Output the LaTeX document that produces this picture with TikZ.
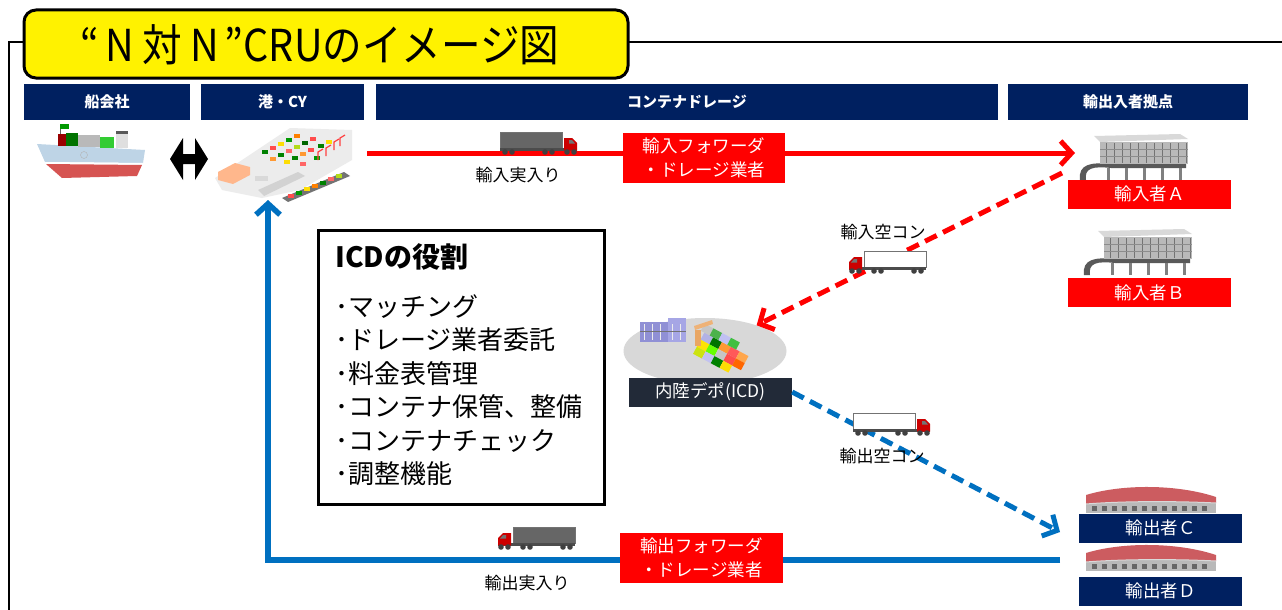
\documentclass[tikz,border=0pt]{standalone}
\usepackage{fontspec}
\setmainfont{Noto Sans CJK JP}
\usetikzlibrary{arrows.meta,shapes.geometric}
\definecolor{navy}{RGB}{0,32,96}
\definecolor{tagred}{RGB}{255,0,0}
\definecolor{flowblue}{RGB}{0,112,192}
\definecolor{slate}{RGB}{34,42,56}
\definecolor{hullblue}{RGB}{190,212,230}
\definecolor{hullred}{RGB}{214,84,82}
\definecolor{roofred}{RGB}{204,92,96}
\definecolor{depotgray}{RGB}{216,216,216}

% truck: #1,#2 centre, #3 container colour, #4 = 1 cab right / -1 cab left
\newcommand\truckpic[4]{%
  \begin{scope}[shift={(#1,#2)}, xscale=#4]
    \fill[#3, draw=black!55, line width=0.6pt] (-40,-11) rectangle (22,5);
    \fill[black!70] (-40,5) rectangle (37,7.5);
    \fill[red!80!black] (24,-5) -- (32,-5) -- (37,0) -- (37,7.5) -- (24,7.5) -- cycle;
    \fill[black!55] (29,-3) -- (32,-3) -- (35,0.5) -- (29,0.5) -- cycle;
    \foreach \w in {-35,-28,5,12,27,34} \fill[black!75] (\w,9) circle (2.8pt);
  \end{scope}}

% office block of an importer
\newcommand\officepic[2]{%
  \begin{scope}[shift={(#1,#2)}]
    \fill[black!65] (-56,24) .. controls (-58,8) and (-45,6) .. (-25,8) -- (50,8) -- (50,12) -- (-25,12) .. controls (-43,10) and (-52,12) .. (-50,24) -- cycle;
    \fill[gray!30] (-42,-20) -- (44,-22) -- (52,-17) -- (-36,-14) -- cycle;
    \fill[gray!55] (-36,-14) rectangle (52,8);
    \foreach \x in {-30,-22,...,50} \draw[black!55, line width=0.8pt] (\x,-13) -- (\x,7);
    \foreach \y in {-7,0} \draw[black!45, line width=0.8pt] (-36,\y) -- (52,\y);
    \foreach \x in {-28,-10,8,26,44} \fill[black!50] (\x-1.5,12) rectangle (\x+1.5,24);
  \end{scope}}

% warehouse of an exporter
\newcommand\storepic[2]{%
  \begin{scope}[shift={(#1,#2)}]
    \fill[gray!55] (-66,0) rectangle (64,12);
    \foreach \x in {-60,-50,...,58} \fill[black!60] (\x,5) rectangle (\x+5,10);
    \fill[roofred] (-66,-6) .. controls (-30,-17) and (25,-17) .. (64,-4)
      -- (64,2) .. controls (25,0) and (-30,0) .. (-66,3) -- cycle;
    \draw[gray!30, line width=1pt] (-66,3) .. controls (-30,0) and (25,0) .. (64,2);
  \end{scope}}

\begin{document}
\begin{tikzpicture}[x=1pt, y=-1pt,
  hdr/.style={fill=navy, text=white, inner sep=0pt, minimum height=36pt,
              font=\bfseries\fontsize{15}{18}\selectfont},
  tag/.style={fill=tagred, text=white, inner sep=0pt, align=center,
              font=\fontsize{17.5}{24}\selectfont},
  sitelabel/.style={inner sep=0pt, minimum width=163pt, minimum height=29pt,
              text=white, font=\fontsize{17.5}{20}\selectfont},
  caption/.style={inner sep=0pt, font=\fontsize{17}{20}\selectfont},
  spot/.style={inner sep=0pt, draw=none},
  tipbarb/.style={-{Straight Barb[length=11pt,width=24pt]}},
  impflow/.style={draw=tagred, line width=5pt, tipbarb},
  expflow/.style={draw=flowblue, line width=5.5pt, tipbarb},
  emptyrun/.style={line width=5pt, dash pattern=on 13pt off 7pt, tipbarb},
]
\useasboundingbox (0,0) rectangle (1282,610);
\fill[white] (0,0) rectangle (1282,610);

% outer frame
\draw[line width=2.5pt] (1282,42) -- (9,42) -- (9,610);

% title plate
\node[draw=black, line width=3pt, fill=yellow, rounded corners=12pt,
      minimum width=604pt, minimum height=68pt, inner sep=0pt] (title) at (326,44) {};
\node[inner sep=0pt, xscale=0.9, transform shape, font=\fontsize{44}{48}\selectfont] (titletext) at (320,45)
  {“\hspace{7pt}N\hspace{9pt}対\hspace{9pt}N\hspace{7pt}”CRUのイメージ図};

% column headers
\node[hdr, minimum width=166pt] (hShip)  at (107,102)   {船会社};
\node[hdr, minimum width=163pt] (hPort)  at (282.5,102) {港・CY};
\node[hdr, minimum width=622pt] (hDray)  at (687,102)   {コンテナドレージ};
\node[hdr, minimum width=240pt] (hSite)  at (1128,102)  {輸出入者拠点};

% ship
\node[spot, minimum width=110pt, minimum height=50pt] (ship) at (90,155) {};
\fill[hullblue] (37,144) -- (145,150) -- (143,163) -- (45,162) -- cycle;
\fill[white] (45,162) -- (143,163) -- (142,165) -- (46,164) -- cycle;
\fill[hullred] (46,164) -- (142,165) -- (137,176) -- (62,178) -- cycle;
\fill[red!60!black] (58,134) rectangle (66,146);
\fill[green!45!black] (66,133) rectangle (78,146);
\fill[gray!55] (78,135) rectangle (100,147);
\fill[gray!40!green] (100,137) rectangle (114,148);
\fill[gray!25] (116,134) rectangle (128,148);
\fill[black!65] (116,131) rectangle (128,134);
\draw[black!60, line width=0.8pt] (60,134) -- (60,124);
\fill[green!60!black] (60,124) rectangle (69,129);
\draw[gray!60] (84,155) circle (3.5pt);

% double arrow between shipping line and port
\fill[black] (170,159) -- (183,138) -- (183,154) -- (195,154) -- (195,138)
  -- (208,159) -- (195,180) -- (195,164) -- (183,164) -- (183,180) -- cycle;

% port and container yard
\node[spot, minimum width=140pt, minimum height=76pt] (port) at (285,162) {};
\fill[gray!15] (215,178) -- (290,128) -- (352,130) -- (352,160) -- (300,190) -- (262,198) -- (222,190) -- cycle;
\fill[gray!35] (258,190) -- (298,172) -- (305,176) -- (264,196) -- cycle;
\fill[red!25!orange!45] (218,172) -- (235,163) -- (250,167) -- (250,175) -- (233,184) -- (218,180) -- cycle;
\fill[gray!30] (255,176) rectangle (268,181);
\foreach \x/\y/\c in {262/150/green!50!black, 270/146/red!70, 278/142/yellow!80!orange,
    286/138/green!60!black, 294/134/orange, 270/157/orange!80, 278/153/green!50!black,
    286/149/red!60, 294/145/yellow!70!green, 302/141/green!40!black, 310/137/red!70,
    284/160/yellow!80!orange, 292/156/green!50!black, 300/152/orange!80, 308/148/red!70,
    318/144/green!50!black, 326/140/yellow!80!orange, 300/162/red!60, 314/156/green!60!black}
  \fill[\c] (\x,\y) rectangle ++(6,4);
\foreach \x/\y in {318/160, 326/156, 334/150, 340/146}
  \draw[red!75, line width=1.2pt] (\x,\y) -- ++(0,-8) -- ++(5,-3);
\fill[black!55] (282,198) -- (344,172) -- (350,176) -- (288,202) -- cycle;
\foreach \x/\y/\c in {288/194/red!70, 296/191/green!60!black, 304/187/yellow!80!orange,
    312/184/orange, 320/181/green!50!black, 328/177/red!60, 336/174/yellow!70!green}
  \fill[\c] (\x,\y) rectangle ++(6,4);

% inland depot
\node[spot, ellipse, fill=depotgray, minimum width=163pt, minimum height=66pt] (depot) at (705,351) {};
\fill[gray!55!blue!60] (640,322) rectangle (668,342);
\fill[gray!45!blue!45] (668,318) rectangle (686,342);
\foreach \x in {644,652,660,672,680} \draw[white!85!gray, line width=0.8pt] (\x,324) -- (\x,340);
\draw[black!55, line width=0.6pt] (640,331) -- (686,331);
\begin{scope}[shift={(728,352)}, rotate=-28]
  \foreach \x/\y/\c in {-30/-6/gray!50!blue!40, -20/-6/green!45!black, -10/-6/orange!80,
      0/-6/red!65, 10/-6/orange!70, -30/2/yellow!85!orange, -20/2/green!60!yellow,
      -10/2/gray!45, 0/2/red!70, 10/2/orange!80!red, -30/10/yellow!80!green,
      -20/10/gray!40!blue!30, -10/10/green!50!black, 0/10/yellow!80!orange,
      -34/-14/gray!45, -24/-14/green!40!gray, -14/-14/gray!35!blue!30, -4/-14/green!50!gray}
    \fill[\c] (\x,\y) rectangle ++(10,8);
\end{scope}
\fill[orange!50!brown!70] (695,330) rectangle (701,346);
\fill[orange!55!brown!60] (694,326) -- (712,320) -- (713,324) -- (695,330) -- cycle;
\node[sitelabel, fill=slate] (depotlbl) at (710.5,392) {内陸デポ(ICD)};

% importers
\node[spot, minimum width=106pt, minimum height=50pt] (impAbld) at (1136,156) {};
\officepic{1136}{156}
\node[sitelabel, fill=tagred] (impA) at (1149.5,194) {輸入者Ａ};
\node[spot, minimum width=106pt, minimum height=50pt] (impBbld) at (1140,251) {};
\officepic{1140}{251}
\node[sitelabel, fill=tagred] (impB) at (1149.5,292.5) {輸入者Ｂ};

% exporters
\node[spot, minimum width=134pt, minimum height=25pt] (expCbld) at (1152,501) {};
\storepic{1152}{501}
\node[sitelabel, fill=navy] (expC) at (1160.5,528) {輸出者Ｃ};
\node[spot, minimum width=134pt, minimum height=25pt] (expDbld) at (1152,559) {};
\storepic{1152}{559}
\node[sitelabel, fill=navy] (expD) at (1160.5,591) {輸出者Ｄ};

% flow end points
\coordinate (impOut) at (367,153);
\coordinate (impIn)  at (1075,153);
\coordinate (emptyOut) at (1062,173);
\coordinate (emptyIn) at (1060,532);
\coordinate (expOut) at (1060,560);
\coordinate (portIn) at (268,200);

% full import containers: port to importer
\draw[impflow] (impOut) -- (impIn);
% empty import containers: importer to depot
\draw[emptyrun, draw=tagred] (emptyOut) -- (depot);
% empty containers for export: depot to exporter
\draw[emptyrun, draw=flowblue] (depotlbl.east) -- (emptyIn);
% full export containers: exporter back to port
\draw[expflow] (expOut) -| (portIn);

% trucks
\truckpic{540}{143}{black!60}{1}
\truckpic{886}{262}{white}{-1}
\truckpic{893}{424}{white}{1}
\truckpic{535}{538}{black!60}{-1}

% forwarder tags
\node[tag, minimum width=162pt, minimum height=50pt] (fwdImp) at (704,158) {輸入フォワーダ\\・ドレージ業者};
\node[tag, minimum width=163pt, minimum height=50pt] (fwdExp) at (701.5,558) {輸出フォワーダ\\・ドレージ業者};

% captions
\node[caption] (capImpFull)  at (518,175) {輸入実入り};
\node[caption] (capImpEmpty) at (883,232) {輸入空コン};
\node[caption] (capExpEmpty) at (882,456) {輸出空コン};
\node[caption] (capExpFull)  at (527,583) {輸出実入り};

% role of the ICD
\node[draw=black, line width=2.5pt, fill=white, minimum width=286pt, minimum height=274pt, inner sep=0pt] (icd) at (461.5,367.5) {};
\node[anchor=west, inner sep=0pt, font=\bfseries\fontsize{28}{32}\selectfont] (icdhead) at (335,257) {ICDの役割};
\node[anchor=north west, align=left, inner sep=0pt, font=\fontsize{26}{33.5}\selectfont] (icdroles) at (335,294)
  {･マッチング\\･ドレージ業者委託\\･料金表管理\\･コンテナ保管、整備\\･コンテナチェック\\･調整機能};
\end{tikzpicture}
\end{document}
